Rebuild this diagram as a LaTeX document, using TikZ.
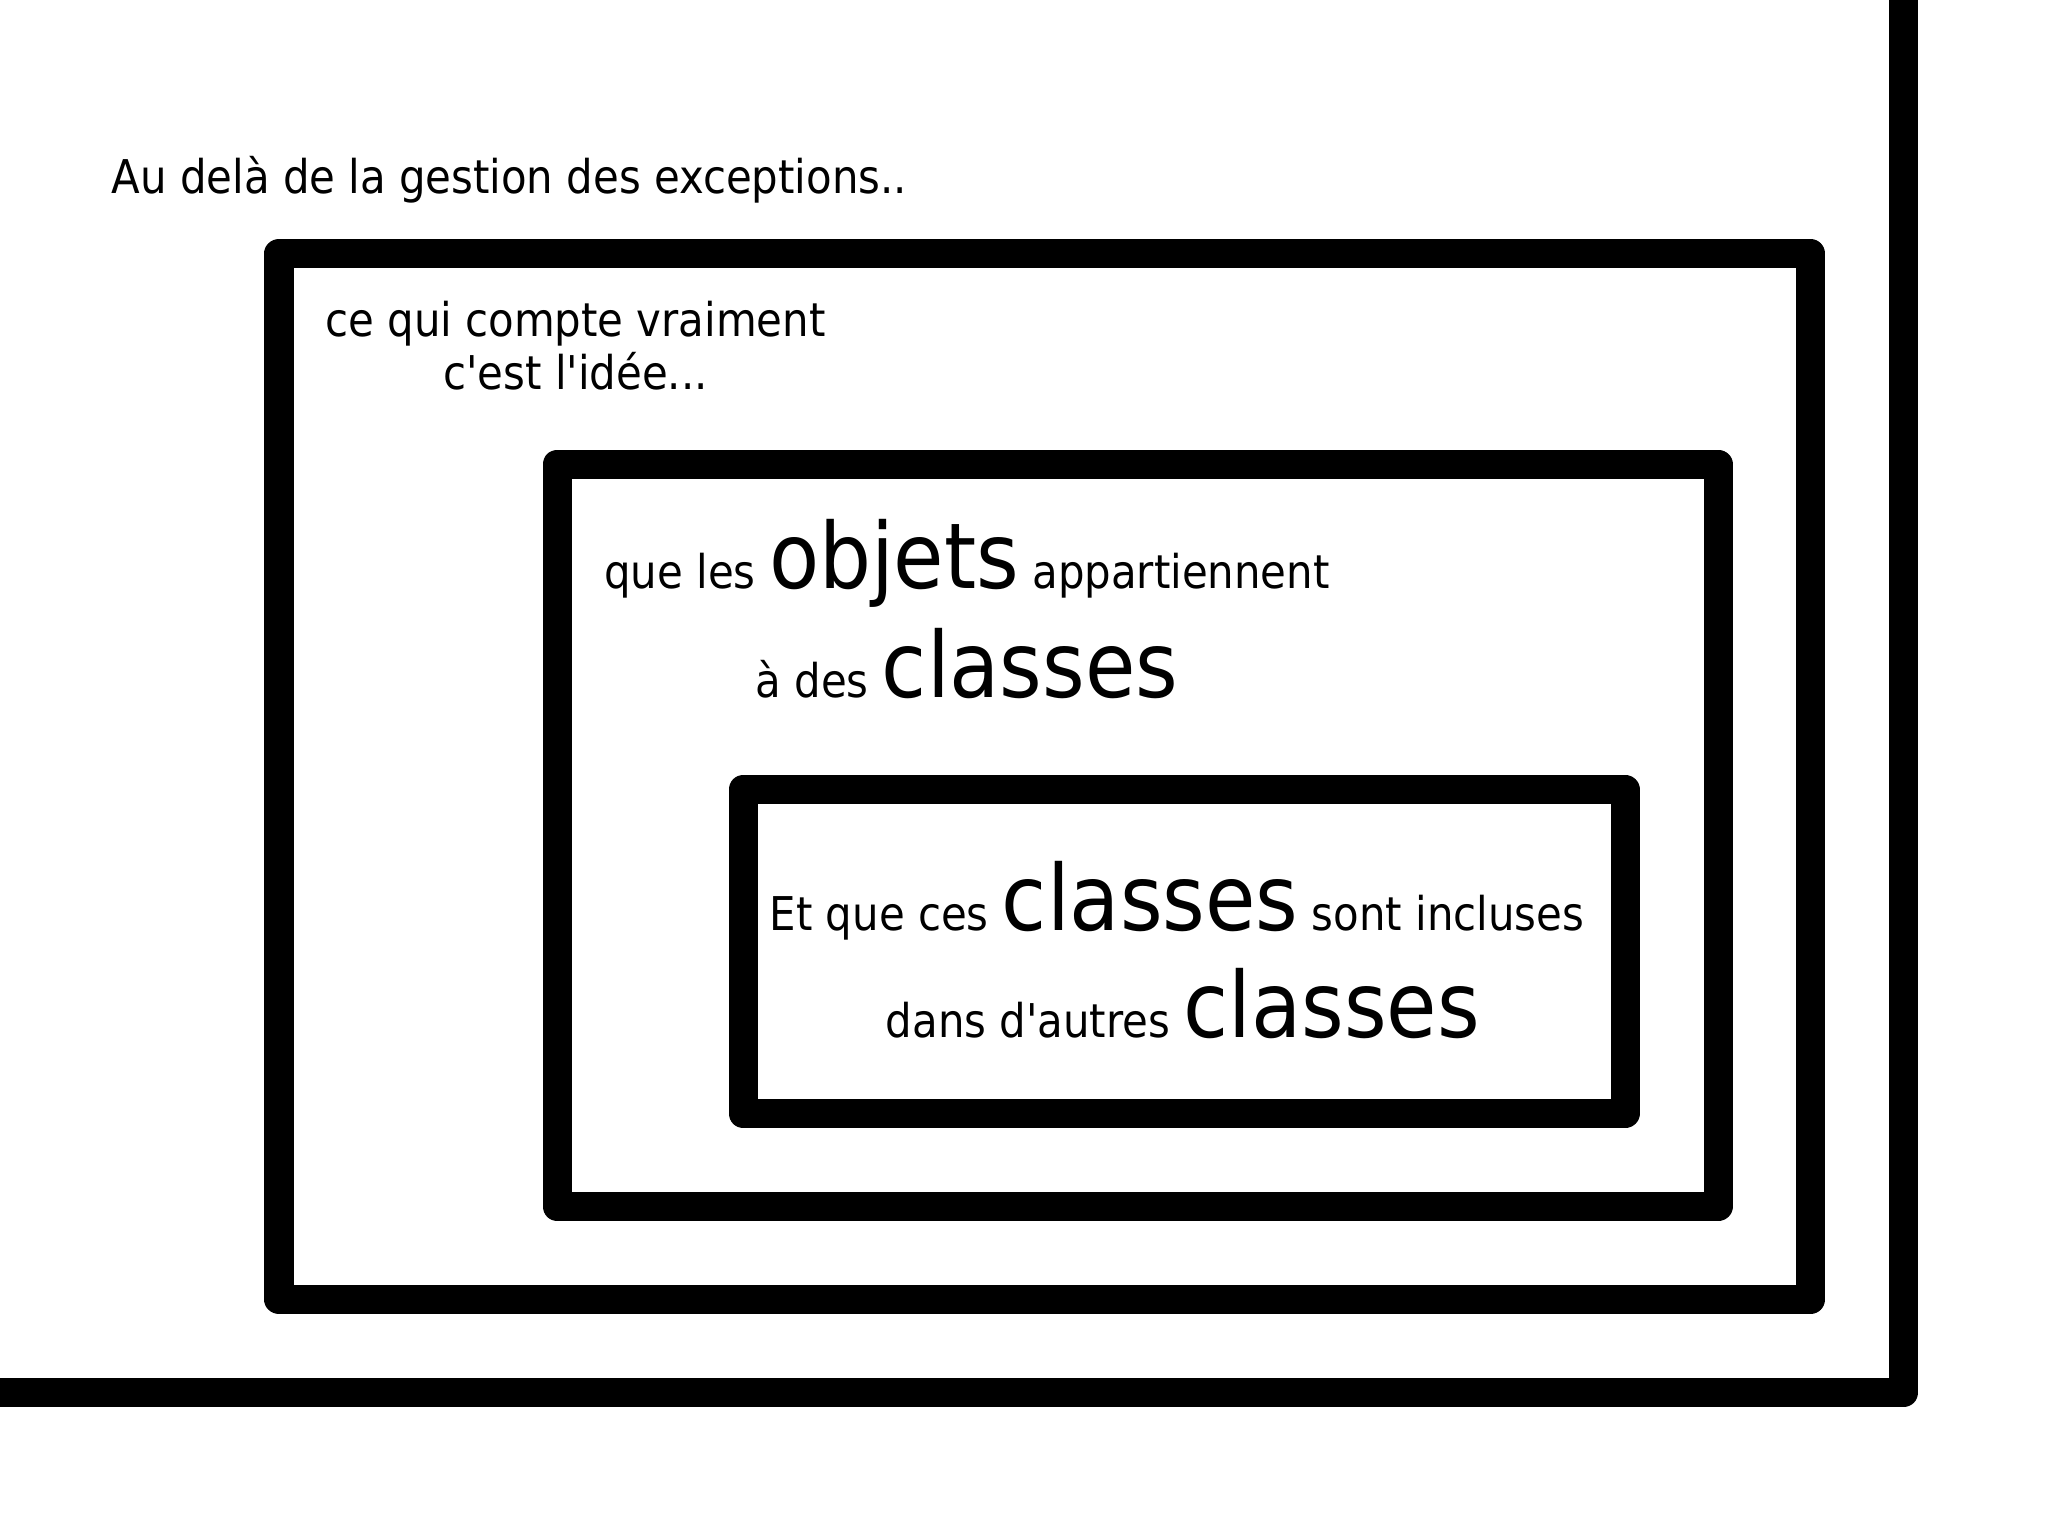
\documentclass[tikz,border=0pt]{standalone}
\usepackage{fontspec}
\IfFontExistsTF{DejaVu Sans Condensed}{\setmainfont{DejaVu Sans Condensed}}{\setmainfont[FakeStretch=0.9]{DejaVu Sans}}
\usepackage{tikz}
\newcommand{\grand}{\fontsize{25.9}{31}\selectfont}
\newcommand{\apos}{\textquotesingle}

\begin{document}
\begin{tikzpicture}[x=0.01cm,y=-0.01cm,
		cadre/.style={draw=black,line width=8.25pt,line join=round},
		ligne/.style={inner sep=0pt,anchor=base,font=\fontsize{13.23}{15}\selectfont}]
			\useasboundingbox (0,0) rectangle (2048,1535);

			%% outer frame
			\coordinate (haut) at (1903.5,-30);
			\coordinate (coin) at (1903.5,1392.8);
			\coordinate (gauche) at (-30,1392.8);
			\draw[cadre] (haut) -- (coin) -- (gauche);

			%% boxes
			\draw[cadre] (279,253.5) rectangle (1810.5,1299.5);
			\draw[cadre] (557,464) rectangle (1718,1206.5);
			\draw[cadre] (743,789.5) rectangle (1625,1113.5);

			%% texts
			\node[ligne, anchor=base west] (titre) at (111,193) {Au delà de la gestion des exceptions..};
			\node[ligne] (idee1) at (575.5,336) {ce qui compte vraiment};
			\node[ligne] (idee2) at (575.5,389) {c\apos est l\apos idée...};
			\node[ligne] (objets) at (967,588) {que les {\grand objets} appartiennent};
			\node[ligne] (classes1) at (967,697) {à des {\grand classes}};
			\node[ligne] (classes2) at (1177,930) {Et que ces {\grand classes} sont incluses};
			\node[ligne] (classes3) at (1183,1037) {dans d\apos autres {\grand classes}};
		\end{tikzpicture}
\end{document}
